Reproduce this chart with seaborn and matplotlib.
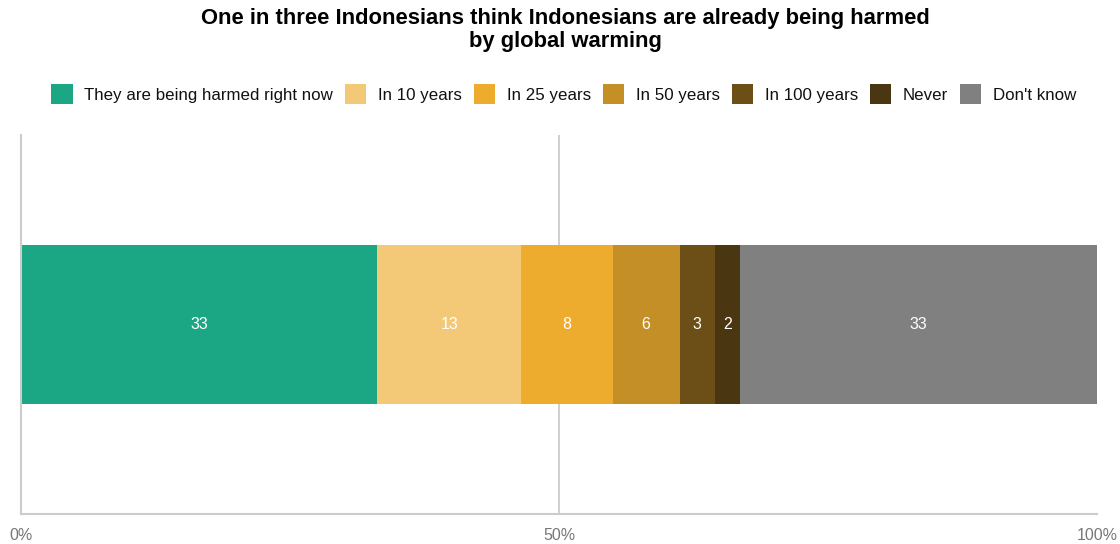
import numpy as np
import pandas as pd
import matplotlib
matplotlib.use("Agg")
import matplotlib.pyplot as plt
import seaborn as sns
from matplotlib.patches import Patch

# Dane
kategorie = ["They are being harmed right now", "In 10 years", "In 25 years",
             "In 50 years", "In 100 years", "Never", "Don't know"]
wartosci = [33.1, 13.4, 8.5, 6.2, 3.3, 2.3, 33.2]
etykiety = ["33", "13", "8", "6", "3", "2", "33"]
kolory = ["#1ca784", "#f3c978", "#edac2e", "#c48f27", "#6b4f17", "#4a3610", "#808080"]
ticki = [0, 50, 100]
tick_etykiety = ["0%", "50%", "100%"]

sns.set_style("white")
plt.rcParams['font.family'] = ['Liberation Sans', 'DejaVu Sans']

df = pd.DataFrame({"kategoria": kategorie, "wartosc": wartosci})
df["skumulowane"] = df["wartosc"].cumsum()

fig = plt.figure(figsize=(11.2, 5.44), dpi=100)
ax = fig.add_axes([21 / 1120, 30 / 544, 1076 / 1120, 379 / 544])

# wykres slupkowy skumulowany - od najdluzszego do najkrotszego
for i in reversed(range(len(df))):
    sns.barplot(x=[df["skumulowane"][i]], y=[""], orient="h", color=kolory[i],
                width=0.42, saturation=1, ax=ax, linewidth=0)

for i, row in df.iterrows():
    ax.text(row["skumulowane"] - row["wartosc"] / 2, 0, etykiety[i],
            ha="center", va="center", color="white", fontsize=11.5)

ax.set_xlim(0, 100)
ax.set_ylim(0.5, -0.5)
ax.set_xticks(ticki)
ax.set_xticklabels(tick_etykiety, color="#777777", fontsize=11.5)
ax.set_yticks([])
ax.set_xlabel("")
ax.set_ylabel("")
ax.tick_params(axis="x", length=0, pad=10)
ax.axvline(50, color="#cccccc", linewidth=1.3, zorder=0)
for s in ["top", "right"]:
    ax.spines[s].set_visible(False)
for s in ["left", "bottom"]:
    ax.spines[s].set_color("#cccccc")
    ax.spines[s].set_linewidth(1.5)
ax.set_axisbelow(True)

uchwyty = [Patch(facecolor=c, edgecolor="none") for c in kolory]
fig.legend(uchwyty, kategorie, loc="center", bbox_to_anchor=(564 / 1120, 1 - 94 / 544),
           ncol=7, frameon=False, fontsize=12.2, handlelength=1.25, handleheight=1.45,
           handletextpad=0.7, columnspacing=0.7, labelcolor="#111111")

fig.text(0.505, 1 - 30 / 544, "One in three Indonesians think Indonesians are already being harmed\nby global warming",
         ha="center", va="center", fontsize=15.8, fontweight="bold", linespacing=1.17,
         color="black")

plt.savefig("out.png", dpi=100)
